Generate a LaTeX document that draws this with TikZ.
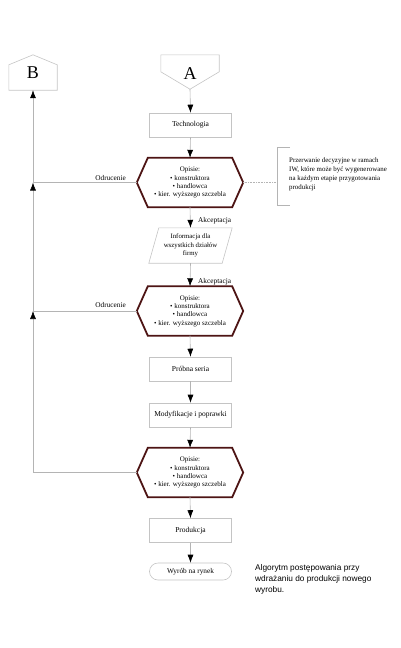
\documentclass[tikz,border=0pt]{standalone}
\usepackage{fontspec}
\setmainfont{Liberation Serif}
\newfontfamily\capfont{Liberation Sans}
\usetikzlibrary{arrows.meta,calc}
\definecolor{boxgrey}{HTML}{C4C4C4}
\definecolor{linegrey}{HTML}{B4B4B4}
\definecolor{maroon}{HTML}{4D1414}
\newcommand\hexoutline[1]{%
  \draw[hexline] (#1.west) -- ($(#1.north west)+(11,0)$) -- ($(#1.north east)+(-11,0)$)
    -- (#1.east) -- ($(#1.south east)+(-11,0)$) -- ($(#1.south west)+(11,0)$) -- cycle;}
\begin{document}
\begin{tikzpicture}[x=1pt,y=-1pt,
  box/.style={draw=boxgrey,line width=0.6pt,minimum width=82pt,minimum height=24pt,inner sep=0pt,font=\fontsize{7.5}{9}\selectfont},
  hexn/.style={minimum width=106pt,minimum height=49pt,inner sep=0pt,align=center,font=\fontsize{7}{8.2}\selectfont},
  hexline/.style={draw=maroon,line width=1.8pt,line join=miter},
  shapeline/.style={draw=boxgrey,line width=0.6pt},
  conn/.style={draw=linegrey,line width=0.6pt},
  arr/.style={conn,-{Latex[color=black,length=8pt,width=6pt]}},
  lbl/.style={font=\fontsize{7.3}{8}\selectfont,inner sep=0pt},
  big/.style={font=\fontsize{18}{18}\selectfont,inner sep=0pt}]
\useasboundingbox (0,0) rectangle (400,648);
% connectors B and A
\node[big,minimum width=48pt,minimum height=35pt] (B) at (33,72.5) {B};
\draw[shapeline] (B.south west) -- ($(B.north west)+(0,10)$) -- (B.north) -- ($(B.north east)+(0,10)$) -- (B.south east) -- cycle;
\node[big,minimum width=58pt,minimum height=34pt] (A) at (190,72) {};
\node[big] at (190,74) {A};
\draw[shapeline] (A.north west) -- (A.north east) -- ($(A.north east)+(0,17)$) -- (A.south) -- ($(A.north west)+(0,17)$) -- cycle;
% main column
\node[box] (tech) at (190.5,125) {Technologia};
\node[hexn] (h1) at (190,182.5) {Opisie:\\[0.3pt] • konstruktora\\ • handlowca\\ • kier. wyższego szczebla};
\hexoutline{h1}
\node[minimum width=83pt,minimum height=35pt,inner sep=0pt,align=center,font=\fontsize{6.8}{8.5}\selectfont] (inf) at (190.5,245.5) {Informacja dla\\ wszystkich działów\\ firmy};
\draw[shapeline] ($(inf.north west)+(10,0)$) -- (inf.north east) -- ($(inf.south east)+(-10,0)$) -- (inf.south west) -- cycle;
\node[hexn] (h2) at (190,311) {Opisie:\\[0.3pt] • konstruktora\\ • handlowca\\ • kier. wyższego szczebla};
\hexoutline{h2}
\node[box] (prob) at (190.5,369) {Próbna seria};
\node[box] (mod) at (190.5,415) {Modyfikacje i poprawki};
\node[hexn] (h3) at (190,472.5) {Opisie:\\[0.3pt] • konstruktora\\ • handlowca\\ • kier. wyższego szczebla};
\hexoutline{h3}
\node[box] (prod) at (190.5,530.5) {Produkcja};
\node[box,minimum height=17pt,rounded corners=8.5pt,font=\fontsize{7.3}{8}\selectfont] (wyr) at (190.5,571.5) {Wyrób na rynek};
% arrows
\draw[arr] (A.south) -- (tech.north);
\draw[arr] (tech.south) -- (h1.north);
\draw[arr] (h1.south) -- (inf.north);
\draw[arr] (inf.south) -- (h2.north);
\draw[arr] (h2.south) -- (prob.north);
\draw[arr] (prob.south) -- (mod.north);
\draw[arr] (mod.south) -- (h3.north);
\draw[arr] (h3.south) -- (prod.north);
\draw[arr] (prod.south) -- (wyr.north);
\node[lbl,anchor=base west] at (198,222) {Akceptacja};
\node[lbl,anchor=base west] at (198,283) {Akceptacja};
% rejection loop
\coordinate (j3) at (33,472.5);
\coordinate (j2) at (33,311);
\coordinate (j1) at (33,182.5);
\draw[conn] (h3.west) -- (j3);
\draw[arr] (j3) -- (j2);
\draw[conn] (h2.west) -- (j2);
\draw[arr] (j2) -- (j1);
\draw[conn] (h1.west) -- (j1);
\draw[arr] (j1) -- (B.south);
\node[lbl,anchor=base east] at (126,180) {Odrucenie};
\node[lbl,anchor=base east] at (126,307) {Odrucenie};
% bracket note
\coordinate (bt) at (277,147);
\coordinate (bb) at (277,205);
\coordinate (bm) at (277,182.5);
\draw[conn] ($(bt)+(13,0)$) -- (bt) -- (bb) -- ($(bb)+(13,0)$);
\draw[conn,densely dotted] (h1.east) -- (bm);
\node[anchor=north west,align=left,inner sep=0pt,font=\fontsize{6.9}{8.8}\selectfont] (note) at (289,158) {Przerwanie decyzyjne w ramach\\ IW, które może być wygenerowane\\ na każdym etapie przygotowania\\ produkcji};
% caption
\node[anchor=north west,align=left,inner sep=0pt,font=\capfont\fontsize{8.3}{11}\selectfont] (cap) at (255,564) {Algorytm postępowania przy\\ wdrażaniu do produkcji nowego\\ wyrobu.};
\end{tikzpicture}
\end{document}
